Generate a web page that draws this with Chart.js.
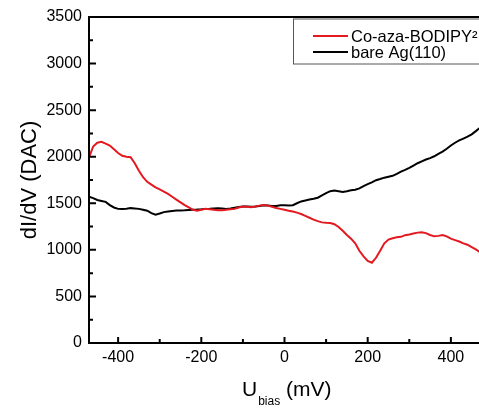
<!DOCTYPE html>
<html>
<head>
<meta charset="utf-8">
<script src="https://cdn.jsdelivr.net/npm/chart.js@4"></script>
<style>
html,body{margin:0;padding:0;background:#fff;overflow:hidden;width:479px;height:408px;}
#wrap{width:490px;height:408px;}
</style>
</head>
<body>
<div id="wrap"><canvas id="c" width="490" height="408"></canvas></div>
<script>
const biasMV = [-470,-460,-450,-440,-430,-420,-410,-400,-390,-380,-370,-360,-350,-340,-330,-320,-310,-300,-290,-280,-270,-260,-250,-240,-230,-220,-210,-200,-190,-180,-170,-160,-150,-140,-130,-120,-110,-100,-90,-80,-70,-60,-50,-40,-30,-20,-10,0,10,20,30,40,50,60,70,80,90,100,110,120,130,140,150,160,170,180,190,200,210,220,230,240,250,260,270,280,290,300,310,320,330,340,350,360,370,380,390,400,410,420,430,440,450,460,470];
const coAzaBodipy = [1990,2110,2150,2160,2140,2120,2080,2040,2010,2000,1995,1930,1850,1780,1730,1700,1670,1650,1625,1600,1570,1540,1510,1480,1455,1430,1420,1430,1440,1435,1430,1425,1425,1430,1435,1440,1455,1465,1462,1458,1465,1475,1482,1475,1462,1450,1440,1430,1420,1412,1400,1385,1365,1345,1325,1308,1295,1290,1288,1275,1245,1205,1160,1120,1070,990,930,880,862,915,990,1070,1110,1125,1135,1140,1158,1165,1175,1185,1190,1180,1160,1145,1150,1160,1145,1120,1105,1090,1070,1055,1030,1005,975];
const bareAg = [1570,1555,1535,1525,1515,1480,1455,1440,1438,1442,1448,1445,1440,1430,1420,1395,1378,1390,1405,1412,1418,1422,1423,1425,1428,1430,1432,1435,1440,1442,1445,1448,1445,1440,1445,1452,1460,1465,1465,1462,1465,1472,1478,1475,1470,1472,1478,1480,1475,1480,1500,1520,1530,1540,1548,1560,1585,1610,1630,1637,1630,1622,1630,1640,1645,1660,1685,1705,1725,1748,1760,1775,1785,1795,1815,1840,1858,1880,1905,1930,1950,1970,1985,2005,2030,2055,2085,2120,2150,2175,2195,2215,2240,2275,2310];
const xTickValues = [-400,-200,0,200,400];
const xMinorValues = [-300,-100,100,300];
const yTickValues = [0,500,1000,1500,2000,2500,3000,3500];
const yMinorValues = [250,750,1250,1750,2250,2750,3250];
const seriesNames = ['Co-aza-BODIPY\u00B2', 'bare Ag(110)'];
const seriesColors = ['#e3191f', '#000000'];

const FONT = '"Liberation Sans", Arial, sans-serif';

const decor = {
  id: 'decor',
  afterDraw(chart) {
    const ctx = chart.ctx, a = chart.chartArea;
    const xs = chart.scales.x, ys = chart.scales.y;
    ctx.save();
    ctx.strokeStyle = '#000';
    ctx.lineWidth = 2;
    ctx.lineCap = 'butt';
    // frame
    ctx.beginPath();
    ctx.moveTo(a.right + 1, a.top);
    ctx.lineTo(a.left, a.top);
    ctx.lineTo(a.left, a.bottom);
    ctx.lineTo(a.right + 1, a.bottom);
    ctx.stroke();
    // ticks (inward)
    ctx.beginPath();
    xTickValues.forEach(v => { const p = xs.getPixelForValue(v); ctx.moveTo(p, a.bottom); ctx.lineTo(p, a.bottom - 6); });
    xMinorValues.forEach(v => { const p = xs.getPixelForValue(v); ctx.moveTo(p, a.bottom); ctx.lineTo(p, a.bottom - 4); });
    yTickValues.forEach(v => { const p = ys.getPixelForValue(v); ctx.moveTo(a.left, p); ctx.lineTo(a.left + 7, p); });
    yMinorValues.forEach(v => { const p = ys.getPixelForValue(v); ctx.moveTo(a.left, p); ctx.lineTo(a.left + 4, p); });
    ctx.stroke();

    // legend box
    const lx = 293, ly = a.top + 1.5, lw = 200, lh = 45;
    ctx.lineWidth = 1;
    ctx.strokeStyle = '#555';
    ctx.fillStyle = '#fff';
    ctx.fillRect(lx, ly, lw, lh);
    ctx.strokeRect(lx + 0.5, ly + 0.5, lw, lh);
    ctx.font = '16.5px ' + FONT;
    ctx.textBaseline = 'middle';
    ctx.textAlign = 'left';
    const rows = [36, 52];
    rows.forEach((yy, i) => {
      ctx.strokeStyle = seriesColors[i];
      ctx.lineWidth = 2;
      ctx.beginPath();
      ctx.moveTo(313, yy);
      ctx.lineTo(348, yy);
      ctx.stroke();
      ctx.fillStyle = '#000';
      ctx.fillText(seriesNames[i], 351, yy + 1);
    });

    // y title
    ctx.fillStyle = '#000';
    ctx.save();
    ctx.translate(30, (a.top + a.bottom) / 2);
    ctx.rotate(-Math.PI / 2);
    ctx.font = '22px ' + FONT;
    ctx.textAlign = 'center';
    ctx.textBaseline = 'middle';
    ctx.fillText('dI/dV (DAC)', 0, 0);
    ctx.restore();

    // x title with subscript
    ctx.textAlign = 'left';
    ctx.textBaseline = 'alphabetic';
    let x0 = 242;
    ctx.font = '21px ' + FONT;
    ctx.fillText('U', x0, 396);
    x0 += ctx.measureText('U').width + 1;
    ctx.font = '12px ' + FONT;
    ctx.fillText('bias', x0, 405);
    x0 += ctx.measureText('bias').width;
    ctx.font = '21px ' + FONT;
    ctx.fillText(' (mV)', x0, 396);
    ctx.restore();
  }
};

new Chart(document.getElementById('c'), {
  type: 'line',
  data: {
    datasets: [
      { label: seriesNames[0], data: biasMV.map((x, i) => ({ x, y: coAzaBodipy[i] })), borderColor: seriesColors[0], borderWidth: 2, pointRadius: 0, tension: 0, fill: false },
      { label: seriesNames[1], data: biasMV.map((x, i) => ({ x, y: bareAg[i] })), borderColor: seriesColors[1], borderWidth: 2, pointRadius: 0, tension: 0, fill: false }
    ]
  },
  plugins: [decor],
  options: {
    responsive: false,
    animation: false,
    events: [],
    layout: { padding: { left: 0, right: 10, top: 17, bottom: 0 } },
    plugins: { legend: { display: false }, tooltip: { enabled: false }, title: { display: false } },
    scales: {
      x: {
        type: 'linear', min: -470, max: 470,
        afterBuildTicks(s) { s.ticks = xTickValues.map(v => ({ value: v })); },
        afterFit(s) { s.height = 65; },
        grid: { display: false, drawTicks: false },
        border: { display: false },
        ticks: { color: '#000', font: { family: FONT, size: 16 }, padding: 5, maxRotation: 0, autoSkip: false, callback: v => String(v) }
      },
      y: {
        type: 'linear', min: 0, max: 3500,
        afterBuildTicks(s) { s.ticks = yTickValues.map(v => ({ value: v })); },
        afterFit(s) { s.width = 89; },
        grid: { display: false, drawTicks: false },
        border: { display: false },
        ticks: { color: '#000', font: { family: FONT, size: 16 }, padding: 7, autoSkip: false, callback: v => String(v) }
      }
    }
  }
});
</script>
</body>
</html>
